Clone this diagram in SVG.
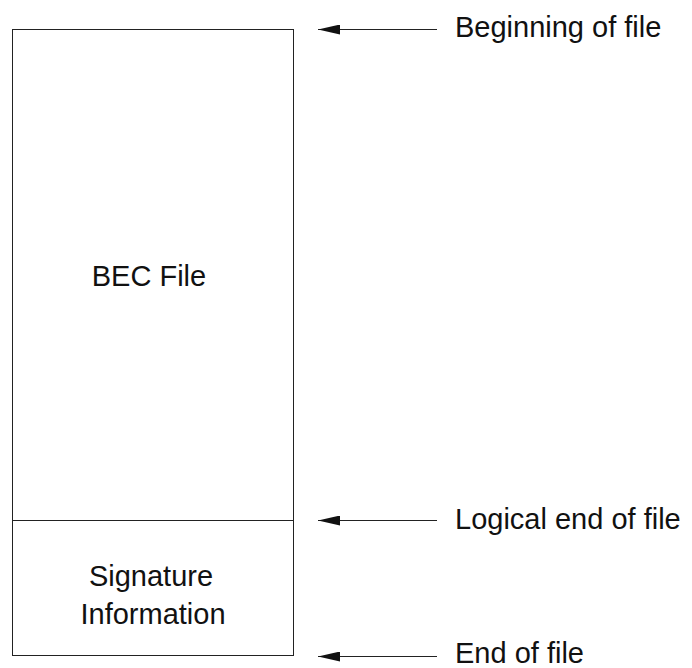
<svg xmlns="http://www.w3.org/2000/svg" width="692" height="668" viewBox="0 0 692 668">
  <style>
    .box { fill: none; stroke: #222; stroke-width: 1; }
    .lbl { font-family: "Liberation Sans", Arial, sans-serif; font-size: 29px; fill: #111; }
    .mid { text-anchor: middle; }
    .arr { stroke: #222; stroke-width: 1; fill: none; marker-end: url(#head); }
  </style>
  <defs>
    <marker id="head" viewBox="0 0 22 10" refX="22" refY="5" markerWidth="22" markerHeight="10" markerUnits="userSpaceOnUse" orient="auto">
      <path d="M0,0 L22,5 L0,10 Z" fill="#111"/>
    </marker>
  </defs>

  <g id="file-layout">
    <rect class="box" x="12.5" y="29.5" width="281" height="626"/>
    <line class="box" x1="12.5" y1="520.5" x2="293.5" y2="520.5"/>
  </g>

  <g id="bec-file">
    <text class="lbl mid" x="149" y="286">BEC File</text>
  </g>

  <g id="signature-info">
    <text class="lbl mid" x="151" y="586">Signature</text>
    <text class="lbl mid" x="153" y="624">Information</text>
  </g>

  <g id="connectors">
    <line class="arr" x1="437" y1="29.5" x2="318" y2="29.5"/>
    <line class="arr" x1="437" y1="520.5" x2="318" y2="520.5"/>
    <line class="arr" x1="437" y1="656.5" x2="318" y2="656.5"/>
  </g>

  <g id="marker-labels">
    <text class="lbl" x="455" y="37">Beginning of file</text>
    <text class="lbl" x="455" y="529">Logical end of file</text>
    <text class="lbl" x="455" y="663">End of file</text>
  </g>
</svg>
